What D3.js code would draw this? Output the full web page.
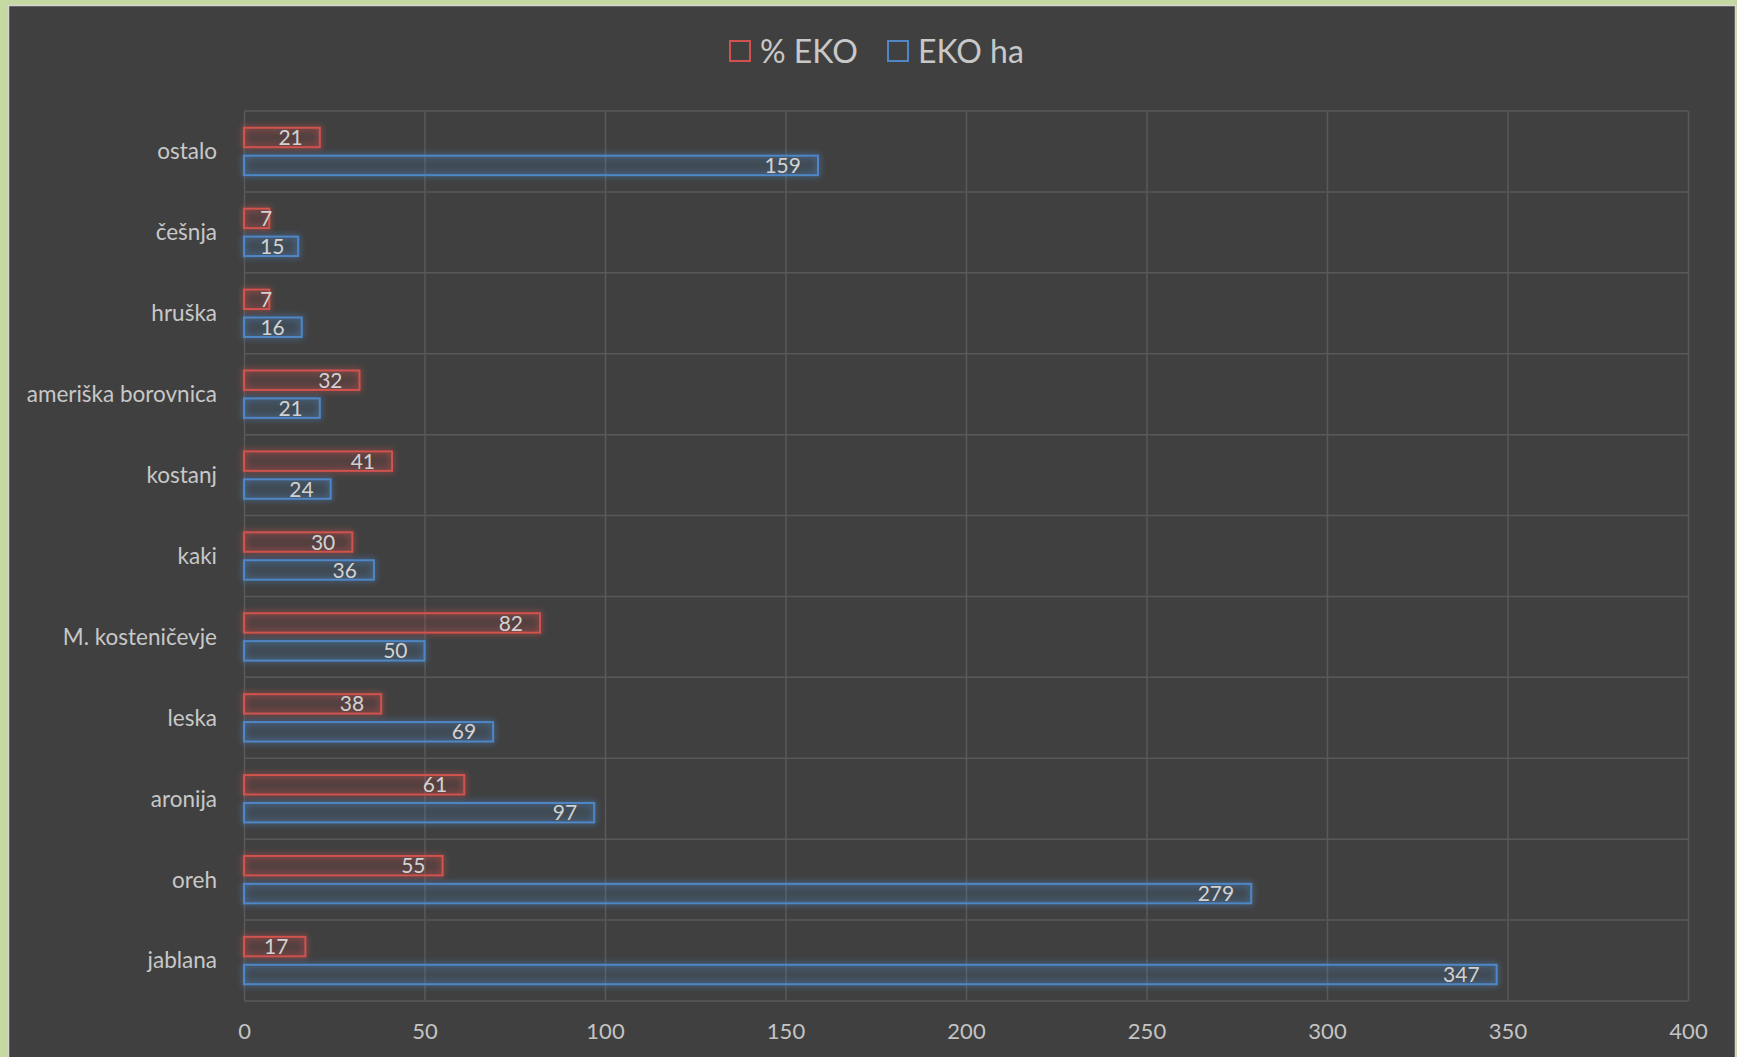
<!DOCTYPE html>
<html>
<head>
<meta charset="utf-8">
<script src="https://cdn.jsdelivr.net/npm/d3@7"></script>
<style>
  body { margin: 0; background: #c6d8a2; }
  text { font-family: Lato, "Open Sans", sans-serif; }
</style>
</head>
<body>
<div id="canvas"></div>
<script>
var width = 1737;
var height = 1057;

// data, top to bottom
var categories = ["ostalo", "češnja", "hruška", "ameriška borovnica", "kostanj", "kaki",
                  "M. kosteničevje", "leska", "aronija", "oreh", "jablana"];
var pctEko = [21, 7, 7, 32, 41, 30, 82, 38, 61, 55, 17];
var ekoHa = [159, 15, 16, 21, 24, 36, 50, 69, 97, 279, 347];
var seriesNames = ["% EKO", "EKO ha"];
var xTicks = [0, 50, 100, 150, 200, 250, 300, 350, 400];

var colors = { "% EKO": "#d0524e", "EKO ha": "#4f86c6" };
var fills = { "% EKO": "rgba(208,82,78,0.08)", "EKO ha": "rgba(79,134,198,0.08)" };

var svg = d3.select("#canvas").append("svg")
            .attr("width", width)
            .attr("height", height)
            .style("display", "block");

var defs = svg.append("defs");
var glow = defs.append("filter").attr("id", "glow")
    .attr("x", "-20%").attr("y", "-80%").attr("width", "140%").attr("height", "260%");
glow.append("feGaussianBlur").attr("in", "SourceGraphic").attr("stdDeviation", 3).attr("result", "blur");
var merge = glow.append("feMerge");
merge.append("feMergeNode").attr("in", "blur");
merge.append("feMergeNode").attr("in", "SourceGraphic");

// dark panel
svg.append("rect")
    .attr("x", 8.5).attr("y", 5.5)
    .attr("width", 1727).attr("height", 1060)
    .attr("fill", "#404040")
    .attr("stroke", "#d4d4d4")
    .attr("stroke-width", 1.5);

var plotLeft = 244, plotRight = 1688, plotTop = 111, plotBottom = 1001;

var x = d3.scaleLinear().domain([0, 400]).range([plotLeft, plotRight]);
var y = d3.scaleBand().domain(categories).range([plotTop, plotBottom]).padding(0);
var inner = d3.scaleBand().domain(seriesNames).range([0, y.bandwidth()])
    .paddingInner(0.3035).paddingOuter(0.601);

// vertical gridlines
svg.append("g")
    .attr("transform", "translate(0," + plotBottom + ")")
    .call(d3.axisBottom(x).tickValues(xTicks).tickSize(-(plotBottom - plotTop)).tickFormat(""))
    .call(g => g.select(".domain").remove())
    .call(g => g.selectAll("line").attr("stroke", "#595959").attr("stroke-width", 1.5));

// horizontal separators
var seps = categories.map(c => y(c)).concat([plotBottom]);
svg.append("g").selectAll("line")
    .data(seps)
    .enter().append("line")
    .attr("x1", plotLeft).attr("x2", plotRight)
    .attr("y1", d => d).attr("y2", d => d)
    .attr("stroke", "#595959")
    .attr("stroke-width", 1.5);

// x tick labels
svg.append("g")
    .attr("transform", "translate(0," + plotBottom + ")")
    .call(d3.axisBottom(x).tickValues(xTicks).tickSize(0).tickPadding(22))
    .call(g => g.select(".domain").remove())
    .call(g => g.selectAll("text")
        .attr("fill", "#c4c4c4")
        .style("font-size", "22px")
        .style("font-family", "Lato, sans-serif"));

// category labels
svg.append("g").selectAll("text")
    .data(categories)
    .enter().append("text")
    .attr("x", plotLeft - 27)
    .attr("y", d => y(d) + y.bandwidth() / 2)
    .attr("dy", "0.35em")
    .attr("text-anchor", "end")
    .attr("fill", "#c8c8c8")
    .style("font-size", "22.5px")
    .text(d => d);

// bars
var rows = [];
categories.forEach(function(c, i) {
  rows.push({ cat: c, series: "% EKO", value: pctEko[i] });
  rows.push({ cat: c, series: "EKO ha", value: ekoHa[i] });
});

svg.append("g").selectAll("rect")
    .data(rows)
    .enter().append("rect")
    .attr("x", x(0))
    .attr("y", d => y(d.cat) + inner(d.series))
    .attr("width", d => x(d.value) - x(0))
    .attr("height", inner.bandwidth())
    .attr("fill", d => fills[d.series])
    .attr("stroke", d => colors[d.series])
    .attr("stroke-width", 2)
    .attr("filter", "url(#glow)");

// value labels, inside end
svg.append("g").selectAll("text")
    .data(rows)
    .enter().append("text")
    .attr("y", d => y(d.cat) + inner(d.series) + inner.bandwidth() / 2)
    .attr("dy", "0.36em")
    .attr("text-anchor", "end")
    .attr("fill", "#d2d2d2")
    .style("font-size", "21px")
    .text(d => d.value)
    .attr("x", function(d) {
      var w = this.getComputedTextLength();
      return Math.max(x(d.value) - 17, x(0) + 16 + w);
    });

// legend
var legend = svg.append("g");
var legendX = { "% EKO": 730, "EKO ha": 888 };
seriesNames.forEach(function(s) {
  legend.append("rect")
      .attr("x", legendX[s]).attr("y", 41)
      .attr("width", 20).attr("height", 20)
      .attr("fill", "none")
      .attr("stroke", colors[s])
      .attr("stroke-width", 2);
  legend.append("text")
      .attr("x", legendX[s] + 30)
      .attr("y", 51)
      .attr("dy", "0.36em")
      .attr("fill", "#c8c8c8")
      .style("font-size", "32px")
      .text(s);
});
</script>
</body>
</html>
